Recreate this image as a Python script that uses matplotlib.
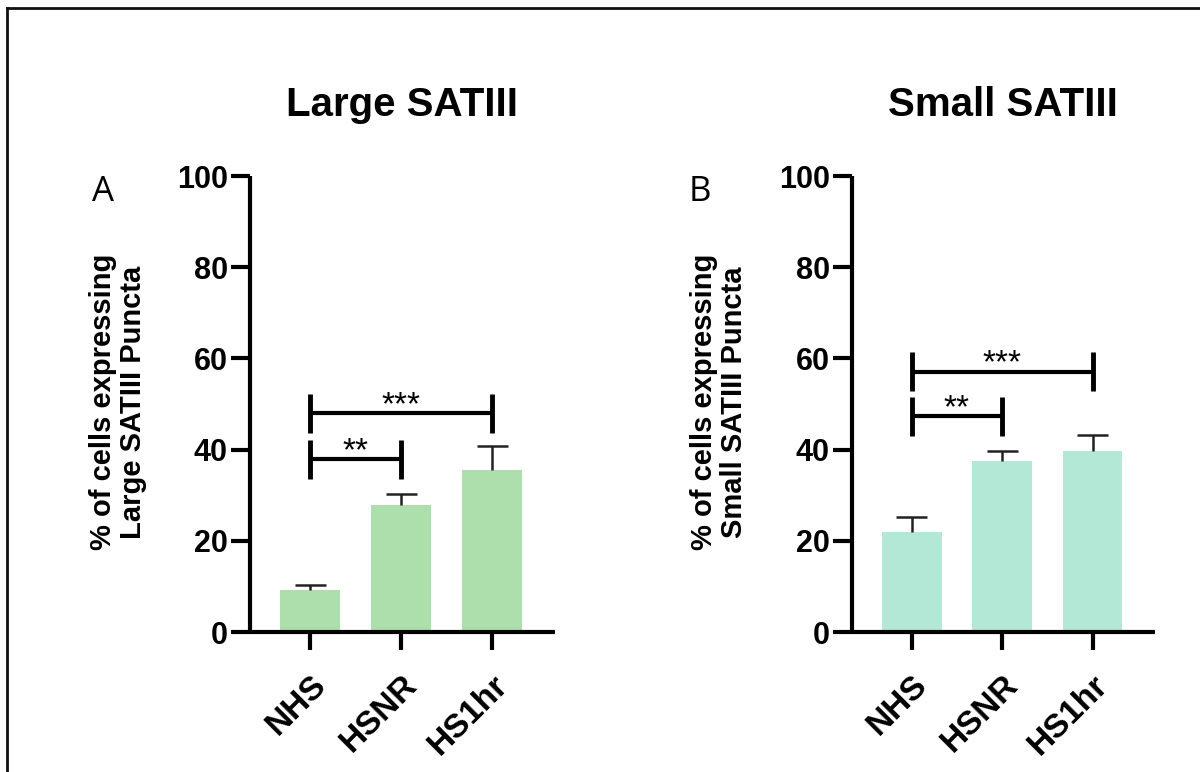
import matplotlib.pyplot as plt
from matplotlib.lines import Line2D


FONT = "Liberation Sans"

CATEGORIES = ["NHS", "HSNR", "HS1hr"]

LARGE_MEANS = [9.2, 27.9, 35.5]
LARGE_SEM = [1.1, 2.4, 5.3]

SMALL_MEANS = [22.0, 37.4, 39.8]
SMALL_SEM = [3.3, 2.2, 3.5]

# (first group, second group, bracket height, label)
LARGE_BRACKETS = [(0, 1, 37.9, "**"), (0, 2, 48.0, "***")]
SMALL_BRACKETS = [(0, 1, 47.3, "**"), (0, 2, 57.1, "***")]

PANELS = [
    {
        "means": LARGE_MEANS,
        "sem": LARGE_SEM,
        "brackets": LARGE_BRACKETS,
        "color": "#acdfac",
        "title": "Large SATIII",
        "ylabel": "% of cells expressing\nLarge SATIII Puncta",
        "letter": "A",
        "rect": [250 / 1200, 1 - 632 / 772, 305 / 1200, 456 / 772],
        "title_x": 402,
        "ylabel_x": 118,
        "letter_x": 103,
    },
    {
        "means": SMALL_MEANS,
        "sem": SMALL_SEM,
        "brackets": SMALL_BRACKETS,
        "color": "#b4e8d6",
        "title": "Small SATIII",
        "ylabel": "% of cells expressing\nSmall SATIII Puncta",
        "letter": "B",
        "rect": [852 / 1200, 1 - 632 / 772, 303 / 1200, 456 / 772],
        "title_x": 1003,
        "ylabel_x": 719,
        "letter_x": 700,
    },
]


def draw_panel(fig, panel):
    ax = fig.add_axes(panel["rect"])
    x = list(range(len(CATEGORIES)))
    means = panel["means"]
    tops = [m + s for m, s in zip(means, panel["sem"])]

    ax.bar(x, means, width=0.66, color=panel["color"], zorder=2)

    # upward-only error bars, GraphPad style
    ax.vlines(x, means, tops, color="#222222", lw=1.8, zorder=3)
    ax.hlines(tops, [p - 0.17 for p in x], [p + 0.17 for p in x],
              color="#222222", lw=1.8, zorder=3)

    for first, second, height, label in panel["brackets"]:
        ax.plot([first, second], [height, height], color="black", lw=3,
                solid_capstyle="butt", zorder=4)
        for pos in (first, second):
            ax.plot([pos, pos], [height - 4.3, height + 4.3], color="black",
                    lw=3.5, solid_capstyle="butt", zorder=4)
        ax.text((first + second) / 2, height - 0.2, label, ha="center",
                va="baseline", fontsize=24, family=FONT)

    ax.set_xlim(-0.66, 2.69)
    ax.set_ylim(0, 100)
    ax.set_yticks([0, 20, 40, 60, 80, 100])
    ax.set_xticks(x)
    ax.set_xticklabels(CATEGORIES, rotation=45, ha="right",
                       rotation_mode="anchor", fontsize=24,
                       fontweight="bold", family=FONT)
    for label in ax.get_yticklabels():
        label.set_fontsize(22)
        label.set_fontweight("bold")
        label.set_family(FONT)

    for side in ("top", "right"):
        ax.spines[side].set_visible(False)
    for side in ("left", "bottom"):
        ax.spines[side].set_linewidth(3)
        ax.spines[side].set_capstyle("butt")

    ax.tick_params(axis="y", length=14, width=3, pad=2)
    ax.tick_params(axis="x", length=13, width=3, pad=14)

    fig.text(panel["title_x"] / 1200, 1 - 105 / 772, panel["title"],
             ha="center", va="center", fontsize=29, fontweight="bold",
             family=FONT)
    fig.text(panel["ylabel_x"] / 1200, 1 - 402 / 772, panel["ylabel"],
             ha="center", va="center", rotation=90, multialignment="center",
             fontsize=21, fontweight="bold", family=FONT, linespacing=1.05)
    fig.text(panel["letter_x"] / 1200, 1 - 192 / 772, panel["letter"],
             ha="center", va="center", fontsize=25, family="Open Sans")


def main():
    fig = plt.figure(figsize=(12, 7.72), dpi=100)

    # frame lines along the top and left edges
    fig.add_artist(Line2D([7 / 1200, 7 / 1200], [0, 1 - 8 / 772],
                          color="#111111", lw=2))
    fig.add_artist(Line2D([7 / 1200, 1], [1 - 8 / 772, 1 - 8 / 772],
                          color="#111111", lw=2))

    for panel in PANELS:
        draw_panel(fig, panel)

    fig.savefig("out.png", dpi=100)
    plt.close(fig)


if __name__ == "__main__":
    main()
